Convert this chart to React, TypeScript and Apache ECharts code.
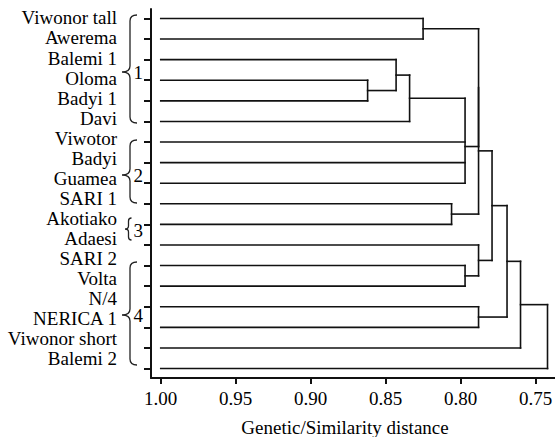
import React, { useEffect, useRef } from "react";
import * as echarts from "echarts";

// ---- Data ----
const leafNames = [
  "Viwonor tall",
  "Awerema",
  "Balemi 1",
  "Oloma",
  "Badyi 1",
  "Davi",
  "Viwotor",
  "Badyi",
  "Guamea",
  "SARI 1",
  "Akotiako",
  "Adaesi",
  "SARI 2",
  "Volta",
  "N/4",
  "NERICA 1",
  "Viwonor short",
  "Balemi 2",
];
const leafHeight = 1.0;
// merges: node index 18 + k; children refer to leaves (0-17) or earlier merges
const mergeChildren: number[][] = [
  [0, 1],
  [3, 4],
  [2, 19],
  [20, 5],
  [21, 6, 7, 8],
  [9, 10],
  [18, 22],
  [24, 23],
  [12, 13],
  [11, 26],
  [25, 27],
  [14, 15],
  [28, 29],
  [30, 16],
  [31, 17],
];
const mergeHeights = [
  0.825, 0.862, 0.843, 0.834, 0.797, 0.806, 0.788, 0.788, 0.797, 0.788, 0.779,
  0.788, 0.769, 0.76, 0.742,
];
const xTicks = [1.0, 0.95, 0.9, 0.85, 0.8, 0.75];
const groupLabels = ["1", "2", "3", "4"];

// ---- Layout (styling only) ----
const FONT = "Liberation Serif";
const FS = 19;
const INK = "#111";
const TEXT = "#000";
const braceLayout = [
  { top: 15, bottom: 123, tip: 72, xTip: 122, xV: 130, xEnd: 137, r: 6, labelY: 72 },
  { top: 140, bottom: 203, tip: 175, xTip: 122, xV: 130, xEnd: 137, r: 6, labelY: 175 },
  { top: 218, bottom: 240, tip: 229, xTip: 125, xV: 128.5, xEnd: 131.5, r: 3, labelY: 230.5 },
  { top: 262, bottom: 365, tip: 315, xTip: 122, xV: 130, xEnd: 137, r: 6, labelY: 315 },
];

function bracePath(b: any) {
  const { top, bottom, tip, xTip, xV, xEnd, r } = b;
  return (
    `M ${xEnd} ${top} Q ${xV} ${top} ${xV} ${top + r} ` +
    `L ${xV} ${tip - r} Q ${xV} ${tip} ${xTip} ${tip} ` +
    `Q ${xV} ${tip} ${xV} ${tip + r} ` +
    `L ${xV} ${bottom - r} Q ${xV} ${bottom} ${xEnd} ${bottom}`
  );
}

braceLayout.forEach((b, i) => {
  echarts.graphic.registerShape(
    "brace" + i,
    echarts.graphic.extendPath(bracePath(b), {}) as any
  );
});

// ---- Build dendrogram segments from the tree ----
function buildSegments() {
  const nodeY: number[] = leafNames.map((_, i) => i);
  const nodeH: number[] = leafNames.map(() => leafHeight);
  const segs: number[][] = [];
  mergeChildren.forEach((ch, k) => {
    const h = mergeHeights[k];
    const ys = ch.map((c) => nodeY[c]);
    ch.forEach((c) => segs.push([nodeH[c], nodeY[c], h, nodeY[c]]));
    segs.push([h, Math.min(...ys), h, Math.max(...ys)]);
    nodeY.push(ys.reduce((a, b) => a + b, 0) / ys.length);
    nodeH.push(h);
  });
  return segs;
}

export default function App() {
  const ref = useRef<HTMLDivElement>(null);
  useEffect(() => {
    if (!ref.current) return;
    const chart = echarts.init(ref.current, undefined, { renderer: "svg" });
    const segments = buildSegments();
    const textStyle = { fontFamily: FONT, fontSize: FS, color: TEXT };
    const option: any = {
      animation: false,
      backgroundColor: "#fff",
      grid: [
        { left: 151, right: 0, top: 9, bottom: 59, containLabel: false, outerBoundsMode: "none" },
        { left: 151, right: 0, top: 7.9, height: 361.1, containLabel: false, outerBoundsMode: "none" },
      ],
      xAxis: [
        {
          type: "value",
          gridIndex: 0,
          inverse: true,
          min: 0.737,
          max: 1.0065,
          splitLine: { show: false },
          axisLine: { show: true, onZero: false, lineStyle: { color: INK, width: 2 } },
          axisTick: {
            show: true,
            length: 6,
            customValues: xTicks,
            lineStyle: { color: INK, width: 2 },
          },
          axisLabel: {
            customValues: xTicks,
            formatter: (v: number) => v.toFixed(2),
            margin: 10,
            lineHeight: 20,
            ...textStyle,
          },
          name: "Genetic/Similarity distance",
          nameLocation: "middle",
          nameGap: 39,
          nameTextStyle: { ...textStyle, lineHeight: 20, padding: [0, 16, 0, 0] },
        },
        { type: "value", gridIndex: 1, show: false },
      ],
      yAxis: [
        {
          type: "value",
          gridIndex: 0,
          inverse: true,
          min: -0.46,
          max: 17.46,
          splitLine: { show: false },
          axisLine: { show: true, onZero: false, lineStyle: { color: INK, width: 2 } },
          axisTick: {
            show: true,
            length: 7,
            customValues: leafNames.map((_, i) => i),
            lineStyle: { color: INK, width: 2 },
          },
          axisLabel: { show: false },
        },
        {
          type: "category",
          gridIndex: 1,
          inverse: true,
          data: leafNames,
          axisLine: { show: false },
          axisTick: { show: false },
          splitLine: { show: false },
          axisLabel: { margin: 34, interval: 0, ...textStyle },
        },
      ],
      series: [
        {
          type: "custom",
          xAxisIndex: 0,
          yAxisIndex: 0,
          silent: true,
          data: segments,
          encode: { x: [0, 2], y: [1, 3] },
          renderItem: (_params: any, api: any) => {
            const p1 = api.coord([api.value(0), api.value(1)]);
            const p2 = api.coord([api.value(2), api.value(3)]);
            return {
              type: "line",
              shape: { x1: p1[0], y1: p1[1], x2: p2[0], y2: p2[1] },
              style: { stroke: INK, lineWidth: 1.6, lineCap: "square" },
            };
          },
        },
      ],
      graphic: [
        ...braceLayout.map((_b, i) => ({
          type: "brace" + i,
          x: 0,
          y: 0,
          silent: true,
          style: { fill: "none", stroke: "#222", lineWidth: 1.3 },
        })),
        ...braceLayout.map((b, i) => ({
          type: "text",
          x: 133.5,
          y: b.labelY,
          silent: true,
          style: {
            text: groupLabels[i],
            fontFamily: FONT,
            fontSize: FS,
            fill: TEXT,
            align: "left",
            verticalAlign: "middle",
          },
        })),
      ],
    };
    chart.setOption(option);
    return () => chart.dispose();
  }, []);
  return (
    <div
      ref={ref}
      style={{ position: "fixed", left: 0, top: 0, width: 555, height: 437 }}
    />
  );
}
